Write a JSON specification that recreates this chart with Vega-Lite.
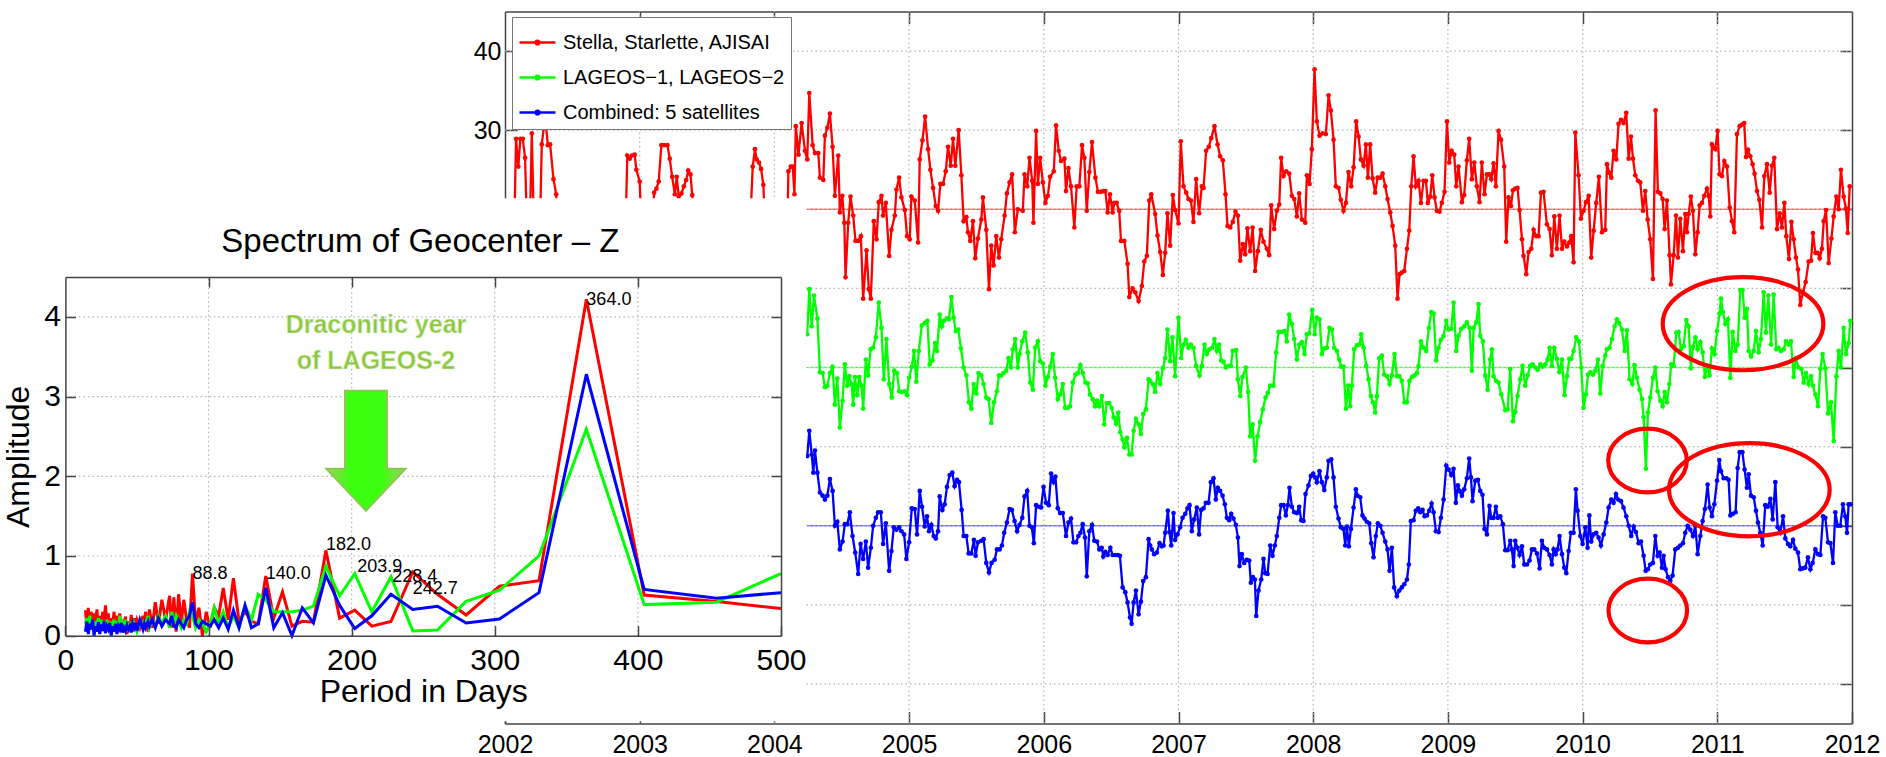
{
  "$schema": "https://vega.github.io/schema/vega-lite/v6.json",
  "width": 1886,
  "height": 757,
  "autosize": "none",
  "padding": 0,
  "background": "white",
  "config": {
    "font": "Liberation Sans",
    "view": {"stroke": null},
    "axis": {"grid": false, "domainColor": "#444", "tickColor": "#444", "labelColor": "#000", "domainWidth": 1.5, "tickWidth": 1.5, "titleFontWeight": "normal", "titleColor": "#000", "labelFlush": false, "labelOverlap": false}
  },
  "datasets": {
    "ts": [
      {"k":"S","t":2002.065,"v":14},{"k":"S","t":2002.082,"v":28.9},{"k":"S","t":2002.099,"v":25.4},{"k":"S","t":2002.114,"v":28.9},{"k":"S","t":2002.132,"v":28.9},{"k":"S","t":2002.149,"v":26.5},{"k":"S","t":2002.169,"v":14},{"k":"S","t":2002.181,"v":15},{"k":"S","t":2002.199,"v":29.6},{"k":"S","t":2002.218,"v":15},{"k":"S","t":2002.243,"v":14},{"k":"S","t":2002.255,"v":14},{"k":"S","t":2002.273,"v":28.2},{"k":"S","t":2002.298,"v":31.7},{"k":"S","t":2002.318,"v":28.1},{"k":"S","t":2002.335,"v":28.2},{"k":"S","t":2002.36,"v":23.8},{"k":"S","t":2002.38,"v":21.9},{"k":"S","t":2002.4,"v":14},
      {"k":"S","t":2002.89,"v":14},{"k":"S","t":2002.908,"v":26.8},{"k":"S","t":2002.926,"v":26.4},{"k":"S","t":2002.943,"v":26.8},{"k":"S","t":2002.963,"v":26.9},{"k":"S","t":2002.975,"v":25.0},{"k":"S","t":2003.0,"v":23.5},{"k":"S","t":2003.02,"v":14},
      {"k":"S","t":2003.08,"v":14},{"k":"S","t":2003.107,"v":22.1},{"k":"S","t":2003.124,"v":22.6},{"k":"S","t":2003.141,"v":23.5},{"k":"S","t":2003.161,"v":28.1},{"k":"S","t":2003.181,"v":28.1},{"k":"S","t":2003.206,"v":28.1},{"k":"S","t":2003.223,"v":26.4},{"k":"S","t":2003.241,"v":24.1},{"k":"S","t":2003.261,"v":21.9},{"k":"S","t":2003.275,"v":24.1},{"k":"S","t":2003.29,"v":21.6},{"k":"S","t":2003.31,"v":22.0},{"k":"S","t":2003.328,"v":22.9},{"k":"S","t":2003.345,"v":23.7},{"k":"S","t":2003.36,"v":24.9},{"k":"S","t":2003.377,"v":24.4},{"k":"S","t":2003.39,"v":21.8},{"k":"S","t":2003.41,"v":14},
      {"k":"S","t":2003.81,"v":14},{"k":"S","t":2003.839,"v":25.4},{"k":"S","t":2003.856,"v":27.6},{"k":"S","t":2003.868,"v":26.3},{"k":"S","t":2003.886,"v":25.9},{"k":"S","t":2003.901,"v":25.1},{"k":"S","t":2003.918,"v":23.1},{"k":"S","t":2003.94,"v":14},
      {"k":"S","t":2004.092,"v":14},{"k":"S","t":2004.104,"v":24.8},{"k":"S","t":2004.122,"v":25.4},{"k":"S","t":2004.136,"v":25.4},{"k":"S","t":2004.149,"v":21.9},{"k":"S","t":2004.159,"v":30.5},{"k":"S","t":2004.179,"v":26.9},
      {"k":"S","t":2004.202,"v":30.9},{"k":"S","t":2004.227,"v":27.4},{"k":"S","t":2004.244,"v":26.3},{"k":"S","t":2004.259,"v":34.7},{"k":"S","t":2004.284,"v":28.1},{"k":"S","t":2004.301,"v":27.1},{"k":"S","t":2004.326,"v":27.1},{"k":"S","t":2004.338,"v":24.0},{"k":"S","t":2004.363,"v":23.7},{"k":"S","t":2004.375,"v":29.3},{"k":"S","t":2004.393,"v":30.3},{"k":"S","t":2004.412,"v":32.1},{"k":"S","t":2004.432,"v":27.9},{"k":"S","t":2004.449,"v":21.7},{"k":"S","t":2004.474,"v":26.8},{"k":"S","t":2004.486,"v":19.6},{"k":"S","t":2004.504,"v":21.7},{"k":"S","t":2004.519,"v":18.3},{"k":"S","t":2004.528,"v":11.4},{"k":"S","t":2004.548,"v":18.3},{"k":"S","t":2004.565,"v":21.6},{"k":"S","t":2004.585,"v":19.2},{"k":"S","t":2004.602,"v":16.0},{"k":"S","t":2004.622,"v":16.0},{"k":"S","t":2004.642,"v":16.6},{"k":"S","t":2004.659,"v":8.7},{"k":"S","t":2004.684,"v":14.8},{"k":"S","t":2004.701,"v":9.9},{"k":"S","t":2004.716,"v":8.7},{"k":"S","t":2004.738,"v":18.5},{"k":"S","t":2004.758,"v":16.2},{"k":"S","t":2004.775,"v":20.9},{"k":"S","t":2004.795,"v":21.7},{"k":"S","t":2004.807,"v":19.2},{"k":"S","t":2004.827,"v":20.8},{"k":"S","t":2004.852,"v":14.1},{"k":"S","t":2004.869,"v":17.4},{"k":"S","t":2004.894,"v":19.2},{"k":"S","t":2004.906,"v":22.5},{"k":"S","t":2004.926,"v":24.0},{"k":"S","t":2004.943,"v":21.5},{"k":"S","t":2004.968,"v":19.9},{"k":"S","t":2004.985,"v":16.6},{"k":"S","t":2005.005,"v":16.2},{"k":"S","t":2005.017,"v":21.6},{"k":"S","t":2005.042,"v":21.1},{"k":"S","t":2005.067,"v":15.8},{"k":"S","t":2005.079,"v":26.3},{"k":"S","t":2005.099,"v":28.7},{"k":"S","t":2005.119,"v":31.7},{"k":"S","t":2005.141,"v":27.6},{"k":"S","t":2005.158,"v":25.0},{"k":"S","t":2005.178,"v":22.7},{"k":"S","t":2005.198,"v":20.4},{"k":"S","t":2005.215,"v":19.8},{"k":"S","t":2005.232,"v":23.2},{"k":"S","t":2005.252,"v":23.2},{"k":"S","t":2005.272,"v":24.8},{"k":"S","t":2005.289,"v":27.9},{"k":"S","t":2005.309,"v":25.5},{"k":"S","t":2005.326,"v":28.9},{"k":"S","t":2005.343,"v":25.5},{"k":"S","t":2005.368,"v":30.0},{"k":"S","t":2005.388,"v":24.3},{"k":"S","t":2005.405,"v":18.5},{"k":"S","t":2005.425,"v":19.0},{"k":"S","t":2005.437,"v":17.1},{"k":"S","t":2005.454,"v":16.0},{"k":"S","t":2005.474,"v":18.5},{"k":"S","t":2005.491,"v":13.8},{"k":"S","t":2005.511,"v":16.3},{"k":"S","t":2005.536,"v":18.7},{"k":"S","t":2005.548,"v":21.5},{"k":"S","t":2005.573,"v":17.4},{"k":"S","t":2005.593,"v":9.9},{"k":"S","t":2005.61,"v":15.4},{"k":"S","t":2005.627,"v":12.9},{"k":"S","t":2005.647,"v":16.6},{"k":"S","t":2005.667,"v":13.9},{"k":"S","t":2005.684,"v":16.2},{"k":"S","t":2005.709,"v":19.2},{"k":"S","t":2005.726,"v":22.0},{"k":"S","t":2005.746,"v":23.4},{"k":"S","t":2005.765,"v":24.4},{"k":"S","t":2005.785,"v":17.1},{"k":"S","t":2005.807,"v":20.0},{"k":"S","t":2005.844,"v":19.8},{"k":"S","t":2005.857,"v":24.4},{"k":"S","t":2005.877,"v":22.9},{"k":"S","t":2005.894,"v":26.5},{"k":"S","t":2005.914,"v":23.6},{"k":"S","t":2005.923,"v":18.3},{"k":"S","t":2005.943,"v":29.9},{"k":"S","t":2005.956,"v":23.2},{"k":"S","t":2005.973,"v":26.5},{"k":"S","t":2005.993,"v":23.4},{"k":"S","t":2006.012,"v":20.8},{"k":"S","t":2006.03,"v":21.7},{"k":"S","t":2006.047,"v":24.1},{"k":"S","t":2006.074,"v":24.8},{"k":"S","t":2006.091,"v":30.6},{"k":"S","t":2006.111,"v":27.4},{"k":"S","t":2006.128,"v":26.1},{"k":"S","t":2006.153,"v":26.4},{"k":"S","t":2006.165,"v":22.3},{"k":"S","t":2006.183,"v":25.2},{"k":"S","t":2006.202,"v":22.9},{"k":"S","t":2006.227,"v":17.7},{"k":"S","t":2006.244,"v":22.9},{"k":"S","t":2006.264,"v":22.9},{"k":"S","t":2006.284,"v":28.1},{"k":"S","t":2006.301,"v":26.5},{"k":"S","t":2006.319,"v":19.8},{"k":"S","t":2006.338,"v":24.7},{"k":"S","t":2006.358,"v":28.5},{"k":"S","t":2006.383,"v":24.0},{"k":"S","t":2006.402,"v":22.2},{"k":"S","t":2006.425,"v":22.2},{"k":"S","t":2006.444,"v":22.3},{"k":"S","t":2006.457,"v":22.3},{"k":"S","t":2006.474,"v":19.6},{"k":"S","t":2006.491,"v":21.9},{"k":"S","t":2006.511,"v":19.6},{"k":"S","t":2006.523,"v":20.8},{"k":"S","t":2006.541,"v":20.8},{"k":"S","t":2006.56,"v":19.8},{"k":"S","t":2006.573,"v":16.0},{"k":"S","t":2006.598,"v":16.0},{"k":"S","t":2006.622,"v":13.1},{"k":"S","t":2006.635,"v":8.9},{"k":"S","t":2006.659,"v":10.0},{"k":"S","t":2006.679,"v":9.5},{"k":"S","t":2006.704,"v":8.4},{"k":"S","t":2006.728,"v":10.3},{"k":"S","t":2006.746,"v":13.4},{"k":"S","t":2006.765,"v":14.1},{"k":"S","t":2006.783,"v":21.1},{"k":"S","t":2006.798,"v":21.9},
      {"k":"S","t":2006.827,"v":19.4},{"k":"S","t":2006.844,"v":16.7},{"k":"S","t":2006.864,"v":14.6},{"k":"S","t":2006.884,"v":11.7},{"k":"S","t":2006.901,"v":14.5},{"k":"S","t":2006.918,"v":19.5},{"k":"S","t":2006.938,"v":15.4},{"k":"S","t":2006.958,"v":21.8},{"k":"S","t":2006.975,"v":19.9},{"k":"S","t":2007.0,"v":18.2},{"k":"S","t":2007.017,"v":28.6},{"k":"S","t":2007.037,"v":22.9},{"k":"S","t":2007.057,"v":22.1},{"k":"S","t":2007.074,"v":21.3},{"k":"S","t":2007.092,"v":21.1},{"k":"S","t":2007.111,"v":18.4},{"k":"S","t":2007.131,"v":23.8},{"k":"S","t":2007.153,"v":19.5},{"k":"S","t":2007.173,"v":22.9},{"k":"S","t":2007.186,"v":22.7},{"k":"S","t":2007.205,"v":27.4},{"k":"S","t":2007.225,"v":27.9},{"k":"S","t":2007.243,"v":29.0},{"k":"S","t":2007.267,"v":30.5},{"k":"S","t":2007.29,"v":28.2},{"k":"S","t":2007.309,"v":26.7},{"k":"S","t":2007.329,"v":26.2},{"k":"S","t":2007.349,"v":21.9},{"k":"S","t":2007.364,"v":17.9},{"k":"S","t":2007.384,"v":17.7},{"k":"S","t":2007.403,"v":18.4},{"k":"S","t":2007.423,"v":19.7},{"k":"S","t":2007.441,"v":19.2},{"k":"S","t":2007.458,"v":13.5},{"k":"S","t":2007.478,"v":15.6},{"k":"S","t":2007.495,"v":14.3},{"k":"S","t":2007.512,"v":17.6},{"k":"S","t":2007.532,"v":14.7},{"k":"S","t":2007.55,"v":17.7},{"k":"S","t":2007.569,"v":12.2},{"k":"S","t":2007.589,"v":14.7},{"k":"S","t":2007.611,"v":17.4},{"k":"S","t":2007.631,"v":15.9},{"k":"S","t":2007.656,"v":15.0},{"k":"S","t":2007.673,"v":14.2},{"k":"S","t":2007.688,"v":20.5},{"k":"S","t":2007.71,"v":17.5},{"k":"S","t":2007.73,"v":19.8},{"k":"S","t":2007.748,"v":20.6},{"k":"S","t":2007.762,"v":26.5},{"k":"S","t":2007.78,"v":24.2},{"k":"S","t":2007.8,"v":24.8},{"k":"S","t":2007.822,"v":24.5},{"k":"S","t":2007.842,"v":21.7},{"k":"S","t":2007.859,"v":21.3},{"k":"S","t":2007.879,"v":19.1},{"k":"S","t":2007.896,"v":22.0},{"k":"S","t":2007.916,"v":18.7},{"k":"S","t":2007.941,"v":18.3},{"k":"S","t":2007.953,"v":24.3},{"k":"S","t":2007.973,"v":23.2},{"k":"S","t":2007.99,"v":27.6},{"k":"S","t":2008.01,"v":37.7},{"k":"S","t":2008.027,"v":31.1},{"k":"S","t":2008.047,"v":29.3},{"k":"S","t":2008.069,"v":29.6},{"k":"S","t":2008.094,"v":29.5},{"k":"S","t":2008.114,"v":34.4},{"k":"S","t":2008.131,"v":32.5},{"k":"S","t":2008.151,"v":28.8},{"k":"S","t":2008.168,"v":22.9},{"k":"S","t":2008.188,"v":22.7},{"k":"S","t":2008.205,"v":21.2},{"k":"S","t":2008.225,"v":19.8},{"k":"S","t":2008.243,"v":20.8},{"k":"S","t":2008.262,"v":24.7},{"k":"S","t":2008.282,"v":22.9},{"k":"S","t":2008.3,"v":25.3},{"k":"S","t":2008.319,"v":31.1},{"k":"S","t":2008.337,"v":29.2},{"k":"S","t":2008.354,"v":26.3},{"k":"S","t":2008.374,"v":25.5},{"k":"S","t":2008.391,"v":28.2},{"k":"S","t":2008.406,"v":24.0},{"k":"S","t":2008.423,"v":28.2},{"k":"S","t":2008.441,"v":23.9},{"k":"S","t":2008.46,"v":22.1},{"k":"S","t":2008.478,"v":24.0},{"k":"S","t":2008.498,"v":24.0},{"k":"S","t":2008.515,"v":24.5},{"k":"S","t":2008.535,"v":22.9},{"k":"S","t":2008.552,"v":21.3},{"k":"S","t":2008.572,"v":19.6},{"k":"S","t":2008.589,"v":17.9},{"k":"S","t":2008.609,"v":15.4},{"k":"S","t":2008.626,"v":8.7},{"k":"S","t":2008.641,"v":11.8},{"k":"S","t":2008.658,"v":12.0},{"k":"S","t":2008.676,"v":12.2},{"k":"S","t":2008.696,"v":15.0},{"k":"S","t":2008.713,"v":17.3},{"k":"S","t":2008.728,"v":22.9},{"k":"S","t":2008.745,"v":26.7},{"k":"S","t":2008.762,"v":22.9},{"k":"S","t":2008.782,"v":23.6},{"k":"S","t":2008.8,"v":20.8},{"k":"S","t":2008.819,"v":23.6},{"k":"S","t":2008.837,"v":23.6},{"k":"S","t":2008.851,"v":20.8},{"k":"S","t":2008.869,"v":21.6},{"k":"S","t":2008.884,"v":24.3},{"k":"S","t":2008.901,"v":21.5},{"k":"S","t":2008.918,"v":19.8},{"k":"S","t":2008.938,"v":19.7},{"k":"S","t":2008.955,"v":20.8},{"k":"S","t":2008.975,"v":22.2},{"k":"S","t":2008.993,"v":31.1},{"k":"S","t":2009.01,"v":25.9},{"k":"S","t":2009.027,"v":27.4},{"k":"S","t":2009.047,"v":26.9},{"k":"S","t":2009.062,"v":22.9},{"k":"S","t":2009.079,"v":25.4},{"k":"S","t":2009.104,"v":20.9},{"k":"S","t":2009.121,"v":21.8},{"k":"S","t":2009.141,"v":26.2},{"k":"S","t":2009.158,"v":28.9},{"k":"S","t":2009.178,"v":23.8},{"k":"S","t":2009.196,"v":25.9},{"k":"S","t":2009.215,"v":22.9},{"k":"S","t":2009.235,"v":20.9},{"k":"S","t":2009.252,"v":25.9},{"k":"S","t":2009.272,"v":21.9},{"k":"S","t":2009.29,"v":24.4},{"k":"S","t":2009.307,"v":24.4},{"k":"S","t":2009.322,"v":23.8},{"k":"S","t":2009.339,"v":25.8},{"k":"S","t":2009.356,"v":22.9},{"k":"S","t":2009.376,"v":29.9},{"k":"S","t":2009.394,"v":28.8},
      {"k":"S","t":2009.418,"v":25.4},{"k":"S","t":2009.433,"v":15.9},{"k":"S","t":2009.45,"v":21.5},{"k":"S","t":2009.468,"v":20.4},{"k":"S","t":2009.483,"v":22.4},{"k":"S","t":2009.5,"v":22.6},{"k":"S","t":2009.517,"v":22.7},{"k":"S","t":2009.532,"v":19.9},{"k":"S","t":2009.55,"v":16.2},{"k":"S","t":2009.562,"v":14.1},{"k":"S","t":2009.582,"v":11.8},{"k":"S","t":2009.599,"v":14.6},{"k":"S","t":2009.619,"v":15.0},{"k":"S","t":2009.636,"v":17.4},{"k":"S","t":2009.656,"v":16.6},{"k":"S","t":2009.673,"v":16.6},{"k":"S","t":2009.691,"v":22.1},{"k":"S","t":2009.71,"v":22.2},{"k":"S","t":2009.735,"v":18.1},{"k":"S","t":2009.755,"v":17.5},{"k":"S","t":2009.772,"v":14.2},{"k":"S","t":2009.79,"v":19.1},{"k":"S","t":2009.809,"v":15.0},{"k":"S","t":2009.829,"v":19.2},{"k":"S","t":2009.847,"v":15.0},{"k":"S","t":2009.864,"v":15.9},{"k":"S","t":2009.884,"v":15.3},{"k":"S","t":2009.901,"v":15.8},{"k":"S","t":2009.916,"v":16.6},{"k":"S","t":2009.933,"v":13.3},{"k":"S","t":2009.946,"v":29.7},{"k":"S","t":2009.97,"v":24.3},{"k":"S","t":2009.988,"v":18.8},{"k":"S","t":2010.007,"v":19.8},{"k":"S","t":2010.025,"v":20.9},{"k":"S","t":2010.045,"v":21.7},{"k":"S","t":2010.064,"v":13.9},{"k":"S","t":2010.082,"v":17.3},{"k":"S","t":2010.101,"v":20.8},{"k":"S","t":2010.121,"v":24.1},{"k":"S","t":2010.144,"v":17.1},{"k":"S","t":2010.168,"v":17.4},{"k":"S","t":2010.181,"v":25.7},{"k":"S","t":2010.198,"v":24.6},{"k":"S","t":2010.213,"v":24.0},{"k":"S","t":2010.23,"v":27.4},{"k":"S","t":2010.25,"v":26.3},{"k":"S","t":2010.267,"v":30.8},{"k":"S","t":2010.285,"v":31.3},{"k":"S","t":2010.304,"v":30.9},{"k":"S","t":2010.324,"v":32.2},{"k":"S","t":2010.342,"v":26.4},{"k":"S","t":2010.359,"v":29.2},{"k":"S","t":2010.374,"v":26.4},{"k":"S","t":2010.391,"v":24.3},{"k":"S","t":2010.411,"v":23.6},{"k":"S","t":2010.428,"v":23.4},{"k":"S","t":2010.448,"v":19.8},{"k":"S","t":2010.465,"v":22.3},{"k":"S","t":2010.483,"v":18.7},{"k":"S","t":2010.502,"v":16.2},{"k":"S","t":2010.522,"v":11.2},{"k":"S","t":2010.542,"v":32.5},{"k":"S","t":2010.559,"v":22.2},{"k":"S","t":2010.577,"v":22.0},{"k":"S","t":2010.594,"v":21.3},{"k":"S","t":2010.609,"v":17.5},{"k":"S","t":2010.626,"v":21.1},{"k":"S","t":2010.646,"v":14.2},{"k":"S","t":2010.656,"v":10.5},{"k":"S","t":2010.676,"v":14.2},{"k":"S","t":2010.693,"v":19.2},{"k":"S","t":2010.708,"v":13.9},{"k":"S","t":2010.725,"v":18.8},{"k":"S","t":2010.745,"v":14.7},{"k":"S","t":2010.762,"v":19.4},{"k":"S","t":2010.775,"v":17.1},{"k":"S","t":2010.787,"v":19.4},{"k":"S","t":2010.804,"v":21.6},{"k":"S","t":2010.819,"v":19.8},{"k":"S","t":2010.837,"v":14.3},{"k":"S","t":2010.854,"v":17.1},{"k":"S","t":2010.869,"v":20.5},{"k":"S","t":2010.886,"v":20.8},{"k":"S","t":2010.903,"v":21.7},{"k":"S","t":2010.923,"v":22.6},{"k":"S","t":2010.936,"v":21.7},{"k":"S","t":2010.948,"v":19.1},{"k":"S","t":2010.96,"v":28.2},{"k":"S","t":2010.985,"v":27.6},{"k":"S","t":2011.002,"v":29.9},{"k":"S","t":2011.017,"v":24.4},{"k":"S","t":2011.035,"v":24.2},{"k":"S","t":2011.052,"v":26.1},{"k":"S","t":2011.072,"v":25.4},{"k":"S","t":2011.092,"v":20.2},{"k":"S","t":2011.109,"v":18.5},{"k":"S","t":2011.126,"v":17.1},{"k":"S","t":2011.146,"v":29.5},{"k":"S","t":2011.166,"v":30.5},{"k":"S","t":2011.183,"v":30.7},{"k":"S","t":2011.2,"v":30.9},{"k":"S","t":2011.213,"v":26.6},{"k":"S","t":2011.228,"v":27.5},{"k":"S","t":2011.245,"v":26.7},{"k":"S","t":2011.262,"v":25.7},{"k":"S","t":2011.277,"v":24.5},{"k":"S","t":2011.295,"v":22.3},{"k":"S","t":2011.312,"v":21.2},{"k":"S","t":2011.332,"v":17.7},{"k":"S","t":2011.349,"v":24.2},{"k":"S","t":2011.369,"v":25.7},{"k":"S","t":2011.389,"v":22.1},{"k":"S","t":2011.406,"v":25.5},{"k":"S","t":2011.423,"v":26.5},{"k":"S","t":2011.443,"v":17.5},{"k":"S","t":2011.463,"v":19.5},{"k":"S","t":2011.48,"v":17.7},{"k":"S","t":2011.498,"v":20.8},{"k":"S","t":2011.512,"v":16.6},{"k":"S","t":2011.532,"v":13.7},{"k":"S","t":2011.55,"v":18.4},{"k":"S","t":2011.567,"v":16.2},{"k":"S","t":2011.584,"v":13.9},{"k":"S","t":2011.599,"v":12.4},{"k":"S","t":2011.616,"v":7.9},{"k":"S","t":2011.636,"v":9.5},{"k":"S","t":2011.656,"v":10.8},{"k":"S","t":2011.678,"v":13.4},{"k":"S","t":2011.696,"v":13.5},{"k":"S","t":2011.71,"v":17.0},{"k":"S","t":2011.728,"v":14.5},{"k":"S","t":2011.745,"v":14.5},{"k":"S","t":2011.76,"v":13.8},{"k":"S","t":2011.777,"v":15.0},{"k":"S","t":2011.79,"v":18.5},{"k":"S","t":2011.807,"v":19.9},{"k":"S","t":2011.827,"v":13.2},{"k":"S","t":2011.847,"v":16.3},{"k":"S","t":2011.864,"v":19.1},{"k":"S","t":2011.884,"v":21.6},{"k":"S","t":2011.901,"v":20.0},{"k":"S","t":2011.918,"v":25.0},{"k":"S","t":2011.938,"v":21.6},{"k":"S","t":2011.955,"v":20.1},{"k":"S","t":2011.968,"v":17.0},{"k":"S","t":2011.983,"v":22.9},

      {"k":"L","t":2004.244,"v":4.2},{"k":"L","t":2004.259,"v":9.9},{"k":"L","t":2004.277,"v":5.2},{"k":"L","t":2004.294,"v":9.1},{"k":"L","t":2004.319,"v":6.2},{"k":"L","t":2004.338,"v":-0.6},{"k":"L","t":2004.358,"v":-0.7},{"k":"L","t":2004.375,"v":-2.5},{"k":"L","t":2004.393,"v":-2.3},{"k":"L","t":2004.412,"v":-0.7},{"k":"L","t":2004.432,"v":0.1},{"k":"L","t":2004.449,"v":-4.7},{"k":"L","t":2004.467,"v":-1.4},{"k":"L","t":2004.486,"v":-7.6},{"k":"L","t":2004.506,"v":-4.2},{"k":"L","t":2004.523,"v":0.4},{"k":"L","t":2004.541,"v":-2.3},{"k":"L","t":2004.556,"v":-1.1},{"k":"L","t":2004.573,"v":-2.1},{"k":"L","t":2004.585,"v":-4.7},{"k":"L","t":2004.598,"v":-1.2},{"k":"L","t":2004.615,"v":-3.5},{"k":"L","t":2004.63,"v":-1.2},{"k":"L","t":2004.647,"v":-2.3},{"k":"L","t":2004.659,"v":-5.2},{"k":"L","t":2004.679,"v":1.0},{"k":"L","t":2004.696,"v":-1.0},{"k":"L","t":2004.714,"v":2.3},{"k":"L","t":2004.733,"v":2.5},{"k":"L","t":2004.753,"v":3.8},{"k":"L","t":2004.775,"v":8.2},{"k":"L","t":2004.795,"v":5.0},{"k":"L","t":2004.812,"v":-1.5},{"k":"L","t":2004.832,"v":3.6},{"k":"L","t":2004.852,"v":-2.1},{"k":"L","t":2004.872,"v":-3.8},{"k":"L","t":2004.889,"v":-0.4},{"k":"L","t":2004.911,"v":-0.7},{"k":"L","t":2004.926,"v":-3.0},{"k":"L","t":2004.943,"v":-3.1},{"k":"L","t":2004.965,"v":-3.0},{"k":"L","t":2004.985,"v":-3.5},{"k":"L","t":2005.0,"v":-1.3},{"k":"L","t":2005.02,"v":0.1},{"k":"L","t":2005.037,"v":2.1},{"k":"L","t":2005.054,"v":-1.8},{"k":"L","t":2005.072,"v":2.1},{"k":"L","t":2005.094,"v":5.3},{"k":"L","t":2005.116,"v":5.6},{"k":"L","t":2005.136,"v":5.9},{"k":"L","t":2005.153,"v":0.4},{"k":"L","t":2005.173,"v":0.9},{"k":"L","t":2005.193,"v":3.1},{"k":"L","t":2005.207,"v":2.1},{"k":"L","t":2005.227,"v":6.7},{"k":"L","t":2005.244,"v":5.2},{"k":"L","t":2005.259,"v":5.9},{"k":"L","t":2005.281,"v":6.2},{"k":"L","t":2005.296,"v":6.1},{"k":"L","t":2005.314,"v":8.9},{"k":"L","t":2005.331,"v":6.3},{"k":"L","t":2005.346,"v":4.6},{"k":"L","t":2005.365,"v":4.8},{"k":"L","t":2005.385,"v":2.4},{"k":"L","t":2005.405,"v":0.0},{"k":"L","t":2005.425,"v":-1.0},{"k":"L","t":2005.444,"v":-4.4},{"k":"L","t":2005.462,"v":-5.2},{"k":"L","t":2005.479,"v":-2.1},{"k":"L","t":2005.499,"v":-3.3},{"k":"L","t":2005.516,"v":-0.7},{"k":"L","t":2005.536,"v":-1.0},{"k":"L","t":2005.553,"v":-2.1},{"k":"L","t":2005.573,"v":-3.8},{"k":"L","t":2005.59,"v":-4.0},{"k":"L","t":2005.61,"v":-7.0},{"k":"L","t":2005.63,"v":-4.4},{"k":"L","t":2005.652,"v":-3.0},{"k":"L","t":2005.667,"v":-1.0},{"k":"L","t":2005.684,"v":-1.0},{"k":"L","t":2005.701,"v":-0.7},{"k":"L","t":2005.721,"v":-0.4},{"k":"L","t":2005.738,"v":1.2},{"k":"L","t":2005.756,"v":0.0},{"k":"L","t":2005.77,"v":2.3},{"k":"L","t":2005.788,"v":3.6},{"k":"L","t":2005.807,"v":0.0},{"k":"L","t":2005.82,"v":1.7},{"k":"L","t":2005.84,"v":3.3},{"k":"L","t":2005.862,"v":4.4},{"k":"L","t":2005.881,"v":1.9},{"k":"L","t":2005.899,"v":-1.9},{"k":"L","t":2005.919,"v":-2.8},{"k":"L","t":2005.936,"v":2.5},{"k":"L","t":2005.956,"v":3.3},{"k":"L","t":2005.973,"v":0.8},{"k":"L","t":2005.993,"v":0.5},{"k":"L","t":2006.012,"v":-2.3},{"k":"L","t":2006.03,"v":-1.2},{"k":"L","t":2006.047,"v":0.1},{"k":"L","t":2006.067,"v":1.7},{"k":"L","t":2006.084,"v":-1.3},{"k":"L","t":2006.104,"v":-4.0},{"k":"L","t":2006.121,"v":-3.4},{"k":"L","t":2006.141,"v":-2.1},{"k":"L","t":2006.158,"v":-5.1},{"k":"L","t":2006.178,"v":-5.1},{"k":"L","t":2006.195,"v":-4.9},{"k":"L","t":2006.215,"v":-1.9},{"k":"L","t":2006.235,"v":-0.9},{"k":"L","t":2006.252,"v":-0.7},{"k":"L","t":2006.272,"v":0.3},{"k":"L","t":2006.289,"v":-0.7},{"k":"L","t":2006.309,"v":-1.9},{"k":"L","t":2006.326,"v":-2.0},{"k":"L","t":2006.343,"v":-3.4},{"k":"L","t":2006.363,"v":-4.0},{"k":"L","t":2006.38,"v":-4.9},{"k":"L","t":2006.395,"v":-4.2},{"k":"L","t":2006.412,"v":-4.9},{"k":"L","t":2006.432,"v":-3.6},{"k":"L","t":2006.449,"v":-7.2},{"k":"L","t":2006.467,"v":-4.5},{"k":"L","t":2006.486,"v":-4.5},{"k":"L","t":2006.504,"v":-5.1},{"k":"L","t":2006.519,"v":-6.3},{"k":"L","t":2006.536,"v":-7.1},{"k":"L","t":2006.553,"v":-5.7},{"k":"L","t":2006.568,"v":-8.2},{"k":"L","t":2006.585,"v":-9.1},{"k":"L","t":2006.598,"v":-10.1},{"k":"L","t":2006.617,"v":-8.9},{"k":"L","t":2006.635,"v":-11.0},{"k":"L","t":2006.652,"v":-11.0},{"k":"L","t":2006.667,"v":-8.0},{"k":"L","t":2006.684,"v":-6.5},{"k":"L","t":2006.704,"v":-7.2},{"k":"L","t":2006.721,"v":-8.4},{"k":"L","t":2006.738,"v":-5.9},{"k":"L","t":2006.758,"v":-5.3},{"k":"L","t":2006.778,"v":-1.5},{"k":"L","t":2006.79,"v":-1.7},
      {"k":"L","t":2006.809,"v":-2.1},{"k":"L","t":2006.827,"v":-3.1},{"k":"L","t":2006.844,"v":-0.7},{"k":"L","t":2006.864,"v":-2.1},{"k":"L","t":2006.884,"v":-0.1},{"k":"L","t":2006.901,"v":1.2},{"k":"L","t":2006.918,"v":4.8},{"k":"L","t":2006.938,"v":0.8},{"k":"L","t":2006.955,"v":3.8},{"k":"L","t":2006.975,"v":-1.1},{"k":"L","t":2007.0,"v":6.3},{"k":"L","t":2007.02,"v":1.2},{"k":"L","t":2007.037,"v":2.9},{"k":"L","t":2007.054,"v":3.5},{"k":"L","t":2007.074,"v":2.5},{"k":"L","t":2007.092,"v":2.9},{"k":"L","t":2007.111,"v":2.5},{"k":"L","t":2007.131,"v":0.2},{"k":"L","t":2007.156,"v":-1.0},{"k":"L","t":2007.173,"v":0.2},{"k":"L","t":2007.193,"v":2.9},{"k":"L","t":2007.21,"v":1.7},{"k":"L","t":2007.23,"v":2.3},{"k":"L","t":2007.25,"v":2.5},{"k":"L","t":2007.267,"v":3.6},{"k":"L","t":2007.285,"v":2.1},{"k":"L","t":2007.302,"v":2.9},{"k":"L","t":2007.317,"v":0.9},{"k":"L","t":2007.334,"v":0.7},{"k":"L","t":2007.351,"v":0.0},{"k":"L","t":2007.371,"v":0.2},{"k":"L","t":2007.389,"v":0.2},{"k":"L","t":2007.403,"v":2.1},{"k":"L","t":2007.428,"v":2.2},{"k":"L","t":2007.441,"v":-1.5},{"k":"L","t":2007.458,"v":-3.6},{"k":"L","t":2007.475,"v":-1.2},{"k":"L","t":2007.5,"v":0.0},{"k":"L","t":2007.517,"v":-3.1},{"k":"L","t":2007.532,"v":-8.7},{"k":"L","t":2007.55,"v":-7.2},{"k":"L","t":2007.569,"v":-11.8},{"k":"L","t":2007.587,"v":-8.7},{"k":"L","t":2007.606,"v":-6.9},{"k":"L","t":2007.626,"v":-5.3},{"k":"L","t":2007.646,"v":-3.8},{"k":"L","t":2007.663,"v":-3.2},{"k":"L","t":2007.681,"v":-2.3},{"k":"L","t":2007.705,"v":-2.3},{"k":"L","t":2007.725,"v":1.9},{"k":"L","t":2007.743,"v":4.5},{"k":"L","t":2007.765,"v":4.5},{"k":"L","t":2007.787,"v":4.6},{"k":"L","t":2007.804,"v":3.3},{"k":"L","t":2007.822,"v":6.7},{"k":"L","t":2007.842,"v":5.5},{"k":"L","t":2007.859,"v":3.6},{"k":"L","t":2007.879,"v":1.0},{"k":"L","t":2007.896,"v":2.9},{"k":"L","t":2007.916,"v":3.2},{"k":"L","t":2007.936,"v":1.7},{"k":"L","t":2007.953,"v":4.2},{"k":"L","t":2007.97,"v":4.3},{"k":"L","t":2007.993,"v":7.3},{"k":"L","t":2008.012,"v":4.2},{"k":"L","t":2008.027,"v":6.3},{"k":"L","t":2008.047,"v":6.1},{"k":"L","t":2008.064,"v":1.7},{"k":"L","t":2008.082,"v":2.4},{"k":"L","t":2008.101,"v":2.5},{"k":"L","t":2008.121,"v":5.0},{"k":"L","t":2008.139,"v":4.8},{"k":"L","t":2008.156,"v":2.5},{"k":"L","t":2008.176,"v":2.1},{"k":"L","t":2008.193,"v":1.0},{"k":"L","t":2008.208,"v":0.1},{"k":"L","t":2008.225,"v":0.1},{"k":"L","t":2008.243,"v":-5.2},{"k":"L","t":2008.26,"v":-2.3},{"k":"L","t":2008.275,"v":-4.9},{"k":"L","t":2008.287,"v":-2.3},{"k":"L","t":2008.304,"v":2.3},{"k":"L","t":2008.324,"v":2.8},{"k":"L","t":2008.344,"v":2.9},{"k":"L","t":2008.356,"v":4.2},{"k":"L","t":2008.374,"v":2.5},{"k":"L","t":2008.394,"v":0.2},{"k":"L","t":2008.411,"v":-1.5},{"k":"L","t":2008.428,"v":-3.6},{"k":"L","t":2008.443,"v":-4.4},{"k":"L","t":2008.46,"v":-5.7},{"k":"L","t":2008.473,"v":-3.6},{"k":"L","t":2008.49,"v":1.2},{"k":"L","t":2008.51,"v":1.5},{"k":"L","t":2008.527,"v":-0.9},{"k":"L","t":2008.547,"v":-1.1},{"k":"L","t":2008.567,"v":-2.1},{"k":"L","t":2008.584,"v":-1.0},{"k":"L","t":2008.604,"v":1.7},{"k":"L","t":2008.621,"v":-1.1},{"k":"L","t":2008.639,"v":-1.1},{"k":"L","t":2008.658,"v":-1.7},{"k":"L","t":2008.678,"v":-4.4},{"k":"L","t":2008.696,"v":-4.4},{"k":"L","t":2008.715,"v":-1.7},{"k":"L","t":2008.733,"v":-1.2},{"k":"L","t":2008.752,"v":-1.0},{"k":"L","t":2008.77,"v":-0.7},{"k":"L","t":2008.782,"v":0.2},{"k":"L","t":2008.8,"v":3.3},{"k":"L","t":2008.819,"v":2.5},{"k":"L","t":2008.839,"v":2.1},{"k":"L","t":2008.859,"v":5.0},{"k":"L","t":2008.876,"v":7.0},{"k":"L","t":2008.894,"v":6.8},{"k":"L","t":2008.913,"v":0.9},{"k":"L","t":2008.931,"v":2.5},{"k":"L","t":2008.948,"v":3.5},{"k":"L","t":2008.968,"v":4.0},{"k":"L","t":2008.988,"v":5.9},{"k":"L","t":2009.005,"v":4.8},{"k":"L","t":2009.025,"v":4.9},{"k":"L","t":2009.042,"v":8.2},{"k":"L","t":2009.062,"v":2.1},{"k":"L","t":2009.079,"v":4.0},{"k":"L","t":2009.099,"v":4.9},{"k":"L","t":2009.121,"v":5.2},{"k":"L","t":2009.141,"v":5.7},{"k":"L","t":2009.161,"v":5.0},{"k":"L","t":2009.178,"v":-0.4},{"k":"L","t":2009.191,"v":5.0},{"k":"L","t":2009.21,"v":5.7},{"k":"L","t":2009.228,"v":8.0},{"k":"L","t":2009.24,"v":4.0},{"k":"L","t":2009.26,"v":3.3},{"k":"L","t":2009.277,"v":-1.0},{"k":"L","t":2009.295,"v":-2.8},{"k":"L","t":2009.314,"v":1.0},{"k":"L","t":2009.327,"v":2.3},{"k":"L","t":2009.339,"v":-1.1},{"k":"L","t":2009.359,"v":-1.7},{"k":"L","t":2009.376,"v":-1.9},{"k":"L","t":2009.396,"v":-3.4},
      {"k":"L","t":2009.426,"v":-5.4},{"k":"L","t":2009.443,"v":-5.3},{"k":"L","t":2009.463,"v":-0.2},{"k":"L","t":2009.483,"v":-6.8},{"k":"L","t":2009.5,"v":-5.6},{"k":"L","t":2009.517,"v":-3.6},{"k":"L","t":2009.537,"v":-1.5},{"k":"L","t":2009.554,"v":0.2},{"k":"L","t":2009.574,"v":-2.3},{"k":"L","t":2009.592,"v":-1.0},{"k":"L","t":2009.611,"v":0.2},{"k":"L","t":2009.629,"v":0.4},{"k":"L","t":2009.649,"v":0.0},{"k":"L","t":2009.666,"v":-0.3},{"k":"L","t":2009.686,"v":0.4},{"k":"L","t":2009.703,"v":0.1},{"k":"L","t":2009.723,"v":0.4},{"k":"L","t":2009.74,"v":1.0},{"k":"L","t":2009.755,"v":2.5},{"k":"L","t":2009.772,"v":0.2},{"k":"L","t":2009.79,"v":2.5},{"k":"L","t":2009.809,"v":1.1},{"k":"L","t":2009.827,"v":-0.6},{"k":"L","t":2009.847,"v":1.0},{"k":"L","t":2009.866,"v":-3.5},{"k":"L","t":2009.884,"v":-1.1},{"k":"L","t":2009.901,"v":1.1},{"k":"L","t":2009.916,"v":1.1},{"k":"L","t":2009.933,"v":2.1},{"k":"L","t":2009.953,"v":3.8},{"k":"L","t":2009.973,"v":3.3},{"k":"L","t":2009.99,"v":0.0},{"k":"L","t":2010.007,"v":-5.1},{"k":"L","t":2010.025,"v":-3.4},{"k":"L","t":2010.04,"v":-0.9},{"k":"L","t":2010.057,"v":-0.6},{"k":"L","t":2010.077,"v":-0.9},{"k":"L","t":2010.094,"v":-0.4},{"k":"L","t":2010.114,"v":1.0},{"k":"L","t":2010.131,"v":-3.3},{"k":"L","t":2010.149,"v":0.2},{"k":"L","t":2010.168,"v":1.5},{"k":"L","t":2010.181,"v":2.3},{"k":"L","t":2010.2,"v":2.5},{"k":"L","t":2010.218,"v":3.6},{"k":"L","t":2010.238,"v":5.2},{"k":"L","t":2010.255,"v":6.1},{"k":"L","t":2010.272,"v":5.6},{"k":"L","t":2010.292,"v":4.8},{"k":"L","t":2010.312,"v":2.1},{"k":"L","t":2010.329,"v":4.7},{"k":"L","t":2010.349,"v":-1.5},{"k":"L","t":2010.369,"v":-2.1},{"k":"L","t":2010.386,"v":0.3},{"k":"L","t":2010.403,"v":-1.3},{"k":"L","t":2010.423,"v":-2.8},{"k":"L","t":2010.441,"v":-4.0},{"k":"L","t":2010.453,"v":-6.3},{"k":"L","t":2010.47,"v":-12.8},{"k":"L","t":2010.485,"v":-5.7},{"k":"L","t":2010.502,"v":-3.8},{"k":"L","t":2010.522,"v":-1.3},{"k":"L","t":2010.54,"v":0.0},{"k":"L","t":2010.557,"v":-3.0},{"k":"L","t":2010.577,"v":-4.2},{"k":"L","t":2010.594,"v":-4.9},{"k":"L","t":2010.609,"v":-3.1},{"k":"L","t":2010.626,"v":-4.4},{"k":"L","t":2010.644,"v":-2.1},{"k":"L","t":2010.658,"v":0.4},{"k":"L","t":2010.676,"v":0.2},{"k":"L","t":2010.696,"v":4.4},{"k":"L","t":2010.713,"v":4.5},{"k":"L","t":2010.73,"v":2.3},{"k":"L","t":2010.75,"v":2.7},{"k":"L","t":2010.77,"v":6.0},{"k":"L","t":2010.787,"v":5.2},{"k":"L","t":2010.804,"v":-0.1},{"k":"L","t":2010.819,"v":2.6},{"k":"L","t":2010.837,"v":3.8},{"k":"L","t":2010.854,"v":2.3},{"k":"L","t":2010.874,"v":3.2},{"k":"L","t":2010.891,"v":1.9},{"k":"L","t":2010.908,"v":-1.2},{"k":"L","t":2010.923,"v":0.1},{"k":"L","t":2010.943,"v":-1.0},{"k":"L","t":2010.96,"v":2.4},{"k":"L","t":2010.98,"v":1.7},{"k":"L","t":2010.998,"v":4.6},{"k":"L","t":2011.017,"v":6.8},{"k":"L","t":2011.027,"v":8.7},{"k":"L","t":2011.042,"v":7.0},{"k":"L","t":2011.059,"v":5.5},{"k":"L","t":2011.079,"v":6.1},{"k":"L","t":2011.097,"v":-1.3},{"k":"L","t":2011.114,"v":4.5},{"k":"L","t":2011.134,"v":2.1},{"k":"L","t":2011.151,"v":2.9},{"k":"L","t":2011.171,"v":9.8},{"k":"L","t":2011.188,"v":9.8},{"k":"L","t":2011.203,"v":6.3},{"k":"L","t":2011.22,"v":7.4},{"k":"L","t":2011.233,"v":2.1},{"k":"L","t":2011.25,"v":1.4},{"k":"L","t":2011.27,"v":2.1},{"k":"L","t":2011.287,"v":4.6},{"k":"L","t":2011.307,"v":1.9},{"k":"L","t":2011.324,"v":3.6},{"k":"L","t":2011.344,"v":9.5},{"k":"L","t":2011.361,"v":4.4},{"k":"L","t":2011.379,"v":9.1},{"k":"L","t":2011.399,"v":2.9},{"k":"L","t":2011.418,"v":9.2},{"k":"L","t":2011.438,"v":2.3},{"k":"L","t":2011.455,"v":2.5},{"k":"L","t":2011.473,"v":2.1},{"k":"L","t":2011.493,"v":2.3},{"k":"L","t":2011.51,"v":3.3},{"k":"L","t":2011.53,"v":2.9},{"k":"L","t":2011.547,"v":3.3},{"k":"L","t":2011.567,"v":-1.2},{"k":"L","t":2011.584,"v":1.2},{"k":"L","t":2011.604,"v":0.0},{"k":"L","t":2011.624,"v":-0.2},{"k":"L","t":2011.641,"v":-1.9},{"k":"L","t":2011.658,"v":-0.7},{"k":"L","t":2011.678,"v":-2.1},{"k":"L","t":2011.696,"v":-1.1},{"k":"L","t":2011.71,"v":-2.3},{"k":"L","t":2011.728,"v":-3.4},{"k":"L","t":2011.748,"v":-4.9},{"k":"L","t":2011.765,"v":-0.2},{"k":"L","t":2011.782,"v":1.7},{"k":"L","t":2011.802,"v":-0.1},{"k":"L","t":2011.822,"v":-5.8},{"k":"L","t":2011.844,"v":-4.4},{"k":"L","t":2011.864,"v":-9.3},{"k":"L","t":2011.884,"v":-1.1},{"k":"L","t":2011.901,"v":2.1},{"k":"L","t":2011.918,"v":0.0},{"k":"L","t":2011.938,"v":5.0},{"k":"L","t":2011.955,"v":1.7},{"k":"L","t":2011.975,"v":3.1},{"k":"L","t":2011.988,"v":5.9},

      {"k":"C","t":2004.244,"v":-11.2},{"k":"C","t":2004.259,"v":-8.0},{"k":"C","t":2004.277,"v":-11.0},{"k":"C","t":2004.289,"v":-13.3},{"k":"C","t":2004.301,"v":-10.5},{"k":"C","t":2004.319,"v":-13.3},{"k":"C","t":2004.338,"v":-15.8},{"k":"C","t":2004.358,"v":-16.2},{"k":"C","t":2004.375,"v":-16.7},{"k":"C","t":2004.393,"v":-16.2},{"k":"C","t":2004.412,"v":-14.1},{"k":"C","t":2004.432,"v":-15.6},{"k":"C","t":2004.449,"v":-20.0},{"k":"C","t":2004.467,"v":-19.5},{"k":"C","t":2004.486,"v":-23.0},{"k":"C","t":2004.506,"v":-22.0},{"k":"C","t":2004.523,"v":-19.8},{"k":"C","t":2004.541,"v":-19.8},{"k":"C","t":2004.56,"v":-18.3},{"k":"C","t":2004.58,"v":-21.3},{"k":"C","t":2004.6,"v":-23.4},{"k":"C","t":2004.622,"v":-26.1},{"k":"C","t":2004.64,"v":-22.3},{"k":"C","t":2004.659,"v":-24.2},{"k":"C","t":2004.679,"v":-22.0},{"k":"C","t":2004.696,"v":-25.3},{"k":"C","t":2004.716,"v":-22.8},{"k":"C","t":2004.733,"v":-20.0},{"k":"C","t":2004.753,"v":-19.0},{"k":"C","t":2004.77,"v":-18.3},{"k":"C","t":2004.79,"v":-18.3},{"k":"C","t":2004.807,"v":-22.3},{"k":"C","t":2004.827,"v":-19.7},{"k":"C","t":2004.852,"v":-25.7},{"k":"C","t":2004.869,"v":-23.2},{"k":"C","t":2004.886,"v":-20.2},{"k":"C","t":2004.906,"v":-20.5},{"k":"C","t":2004.926,"v":-20.2},{"k":"C","t":2004.943,"v":-20.7},{"k":"C","t":2004.963,"v":-21.1},{"k":"C","t":2004.98,"v":-24.2},{"k":"C","t":2005.0,"v":-22.1},{"k":"C","t":2005.02,"v":-17.8},{"k":"C","t":2005.042,"v":-17.9},{"k":"C","t":2005.059,"v":-21.1},{"k":"C","t":2005.079,"v":-15.6},{"k":"C","t":2005.096,"v":-17.6},{"k":"C","t":2005.116,"v":-20.1},{"k":"C","t":2005.133,"v":-18.8},{"k":"C","t":2005.148,"v":-20.7},{"k":"C","t":2005.165,"v":-19.9},{"k":"C","t":2005.183,"v":-21.3},{"k":"C","t":2005.198,"v":-21.6},{"k":"C","t":2005.215,"v":-20.7},{"k":"C","t":2005.227,"v":-16.3},{"k":"C","t":2005.247,"v":-18.0},{"k":"C","t":2005.264,"v":-17.3},{"k":"C","t":2005.281,"v":-15.1},{"k":"C","t":2005.301,"v":-13.6},{"k":"C","t":2005.321,"v":-13.3},{"k":"C","t":2005.338,"v":-15.0},{"k":"C","t":2005.356,"v":-14.2},{"k":"C","t":2005.37,"v":-14.5},{"k":"C","t":2005.39,"v":-18.0},{"k":"C","t":2005.405,"v":-21.3},{"k":"C","t":2005.425,"v":-21.3},{"k":"C","t":2005.442,"v":-23.5},{"k":"C","t":2005.462,"v":-23.5},{"k":"C","t":2005.481,"v":-21.8},{"k":"C","t":2005.494,"v":-23.8},{"k":"C","t":2005.511,"v":-22.1},{"k":"C","t":2005.536,"v":-21.9},{"k":"C","t":2005.553,"v":-21.7},{"k":"C","t":2005.573,"v":-24.7},{"k":"C","t":2005.593,"v":-25.9},{"k":"C","t":2005.612,"v":-24.7},{"k":"C","t":2005.635,"v":-24.3},{"k":"C","t":2005.652,"v":-23.0},{"k":"C","t":2005.672,"v":-23.0},{"k":"C","t":2005.689,"v":-22.5},{"k":"C","t":2005.706,"v":-20.9},{"k":"C","t":2005.726,"v":-19.6},{"k":"C","t":2005.746,"v":-17.9},{"k":"C","t":2005.763,"v":-18.0},{"k":"C","t":2005.783,"v":-19.4},{"k":"C","t":2005.802,"v":-20.7},{"k":"C","t":2005.82,"v":-19.9},{"k":"C","t":2005.84,"v":-19.0},{"k":"C","t":2005.857,"v":-16.3},{"k":"C","t":2005.877,"v":-15.6},{"k":"C","t":2005.894,"v":-20.0},{"k":"C","t":2005.911,"v":-20.2},{"k":"C","t":2005.926,"v":-22.2},{"k":"C","t":2005.943,"v":-17.4},{"k":"C","t":2005.963,"v":-17.6},{"k":"C","t":2005.98,"v":-17.7},{"k":"C","t":2005.998,"v":-15.1},{"k":"C","t":2006.017,"v":-17.1},{"k":"C","t":2006.037,"v":-17.4},{"k":"C","t":2006.054,"v":-13.4},{"k":"C","t":2006.072,"v":-14.5},{"k":"C","t":2006.086,"v":-13.8},{"k":"C","t":2006.104,"v":-17.8},{"k":"C","t":2006.121,"v":-18.4},{"k":"C","t":2006.141,"v":-18.4},{"k":"C","t":2006.165,"v":-21.3},{"k":"C","t":2006.183,"v":-19.6},{"k":"C","t":2006.202,"v":-19.1},{"k":"C","t":2006.22,"v":-22.1},{"k":"C","t":2006.24,"v":-22.1},{"k":"C","t":2006.257,"v":-21.3},{"k":"C","t":2006.272,"v":-20.9},{"k":"C","t":2006.289,"v":-19.8},{"k":"C","t":2006.306,"v":-21.5},{"k":"C","t":2006.319,"v":-26.4},{"k":"C","t":2006.338,"v":-20.7},{"k":"C","t":2006.358,"v":-19.9},{"k":"C","t":2006.375,"v":-21.9},{"k":"C","t":2006.395,"v":-22.0},{"k":"C","t":2006.412,"v":-23.0},{"k":"C","t":2006.43,"v":-22.8},{"k":"C","t":2006.442,"v":-23.9},{"k":"C","t":2006.457,"v":-23.3},{"k":"C","t":2006.474,"v":-23.7},{"k":"C","t":2006.494,"v":-22.8},{"k":"C","t":2006.511,"v":-23.7},{"k":"C","t":2006.531,"v":-23.7},{"k":"C","t":2006.548,"v":-23.7},{"k":"C","t":2006.565,"v":-23.8},{"k":"C","t":2006.585,"v":-27.8},{"k":"C","t":2006.605,"v":-28.4},{"k":"C","t":2006.622,"v":-29.7},{"k":"C","t":2006.64,"v":-31.6},{"k":"C","t":2006.652,"v":-32.4},{"k":"C","t":2006.667,"v":-29.7},{"k":"C","t":2006.684,"v":-28.2},{"k":"C","t":2006.704,"v":-31.2},{"k":"C","t":2006.721,"v":-29.6},{"k":"C","t":2006.738,"v":-27.0},{"k":"C","t":2006.758,"v":-26.5},{"k":"C","t":2006.778,"v":-21.7},{"k":"C","t":2006.79,"v":-22.5},
      {"k":"C","t":2006.802,"v":-23.0},{"k":"C","t":2006.819,"v":-23.6},{"k":"C","t":2006.839,"v":-23.4},{"k":"C","t":2006.859,"v":-22.2},{"k":"C","t":2006.876,"v":-22.6},{"k":"C","t":2006.889,"v":-22.5},{"k":"C","t":2006.901,"v":-20.9},{"k":"C","t":2006.921,"v":-18.1},{"k":"C","t":2006.933,"v":-20.8},{"k":"C","t":2006.946,"v":-22.5},{"k":"C","t":2006.963,"v":-18.4},{"k":"C","t":2006.975,"v":-21.8},{"k":"C","t":2006.993,"v":-21.1},{"k":"C","t":2007.012,"v":-20.2},{"k":"C","t":2007.03,"v":-19.0},{"k":"C","t":2007.05,"v":-18.5},{"k":"C","t":2007.067,"v":-17.8},{"k":"C","t":2007.082,"v":-17.4},{"k":"C","t":2007.099,"v":-20.7},{"k":"C","t":2007.116,"v":-19.2},{"k":"C","t":2007.136,"v":-17.7},{"k":"C","t":2007.153,"v":-21.1},{"k":"C","t":2007.168,"v":-18.0},{"k":"C","t":2007.186,"v":-17.8},{"k":"C","t":2007.203,"v":-17.1},{"k":"C","t":2007.223,"v":-17.1},{"k":"C","t":2007.24,"v":-14.5},{"k":"C","t":2007.26,"v":-14.0},{"k":"C","t":2007.277,"v":-16.7},{"k":"C","t":2007.292,"v":-15.2},{"k":"C","t":2007.309,"v":-15.6},{"k":"C","t":2007.327,"v":-16.2},{"k":"C","t":2007.344,"v":-17.3},{"k":"C","t":2007.359,"v":-19.0},{"k":"C","t":2007.376,"v":-19.3},{"k":"C","t":2007.391,"v":-18.5},{"k":"C","t":2007.408,"v":-19.1},{"k":"C","t":2007.426,"v":-19.9},{"k":"C","t":2007.441,"v":-21.5},{"k":"C","t":2007.453,"v":-25.1},{"k":"C","t":2007.47,"v":-23.6},{"k":"C","t":2007.488,"v":-24.7},{"k":"C","t":2007.507,"v":-24.3},{"k":"C","t":2007.525,"v":-24.4},{"k":"C","t":2007.537,"v":-27.2},{"k":"C","t":2007.552,"v":-26.5},{"k":"C","t":2007.567,"v":-26.8},{"k":"C","t":2007.577,"v":-31.4},{"k":"C","t":2007.594,"v":-28.2},{"k":"C","t":2007.614,"v":-26.8},{"k":"C","t":2007.631,"v":-24.2},{"k":"C","t":2007.644,"v":-26.0},{"k":"C","t":2007.661,"v":-26.1},{"k":"C","t":2007.681,"v":-22.5},{"k":"C","t":2007.698,"v":-23.8},{"k":"C","t":2007.715,"v":-22.5},{"k":"C","t":2007.73,"v":-21.3},{"k":"C","t":2007.748,"v":-19.0},{"k":"C","t":2007.762,"v":-17.4},{"k":"C","t":2007.78,"v":-17.4},{"k":"C","t":2007.797,"v":-18.7},{"k":"C","t":2007.812,"v":-17.4},{"k":"C","t":2007.824,"v":-15.2},{"k":"C","t":2007.842,"v":-17.6},{"k":"C","t":2007.859,"v":-18.3},{"k":"C","t":2007.879,"v":-18.4},{"k":"C","t":2007.896,"v":-17.6},{"k":"C","t":2007.911,"v":-19.3},{"k":"C","t":2007.928,"v":-19.4},{"k":"C","t":2007.943,"v":-16.0},{"k":"C","t":2007.965,"v":-14.9},{"k":"C","t":2007.983,"v":-13.7},{"k":"C","t":2008.0,"v":-13.4},{"k":"C","t":2008.015,"v":-13.9},{"k":"C","t":2008.027,"v":-14.5},{"k":"C","t":2008.047,"v":-13.1},{"k":"C","t":2008.064,"v":-14.5},{"k":"C","t":2008.082,"v":-15.5},{"k":"C","t":2008.101,"v":-13.9},{"k":"C","t":2008.114,"v":-11.8},{"k":"C","t":2008.134,"v":-11.6},{"k":"C","t":2008.151,"v":-13.9},{"k":"C","t":2008.168,"v":-17.6},{"k":"C","t":2008.188,"v":-19.1},{"k":"C","t":2008.205,"v":-20.2},{"k":"C","t":2008.225,"v":-20.4},{"k":"C","t":2008.238,"v":-22.5},{"k":"C","t":2008.25,"v":-20.1},{"k":"C","t":2008.265,"v":-22.6},{"k":"C","t":2008.28,"v":-20.4},{"k":"C","t":2008.3,"v":-17.7},{"k":"C","t":2008.317,"v":-15.4},{"k":"C","t":2008.329,"v":-16.2},{"k":"C","t":2008.349,"v":-16.4},{"k":"C","t":2008.366,"v":-18.7},{"k":"C","t":2008.381,"v":-19.1},{"k":"C","t":2008.398,"v":-19.5},{"k":"C","t":2008.416,"v":-19.7},{"k":"C","t":2008.431,"v":-22.2},{"k":"C","t":2008.448,"v":-24.0},{"k":"C","t":2008.465,"v":-21.3},{"k":"C","t":2008.48,"v":-19.7},{"k":"C","t":2008.498,"v":-20.0},{"k":"C","t":2008.515,"v":-20.9},{"k":"C","t":2008.535,"v":-22.0},{"k":"C","t":2008.552,"v":-23.0},{"k":"C","t":2008.567,"v":-25.7},{"k":"C","t":2008.584,"v":-22.8},{"k":"C","t":2008.601,"v":-27.8},{"k":"C","t":2008.621,"v":-28.9},{"k":"C","t":2008.639,"v":-28.2},{"k":"C","t":2008.658,"v":-27.8},{"k":"C","t":2008.676,"v":-27.4},{"k":"C","t":2008.696,"v":-26.8},{"k":"C","t":2008.71,"v":-24.9},{"k":"C","t":2008.725,"v":-19.4},{"k":"C","t":2008.745,"v":-19.3},{"k":"C","t":2008.762,"v":-18.1},{"k":"C","t":2008.78,"v":-17.8},{"k":"C","t":2008.795,"v":-18.3},{"k":"C","t":2008.812,"v":-18.0},{"k":"C","t":2008.827,"v":-18.8},{"k":"C","t":2008.844,"v":-18.7},{"k":"C","t":2008.861,"v":-18.1},{"k":"C","t":2008.879,"v":-17.2},{"k":"C","t":2008.894,"v":-18.3},{"k":"C","t":2008.911,"v":-20.7},{"k":"C","t":2008.931,"v":-20.8},{"k":"C","t":2008.948,"v":-19.0},{"k":"C","t":2008.968,"v":-16.7},{"k":"C","t":2008.988,"v":-12.4},{"k":"C","t":2009.005,"v":-12.9},{"k":"C","t":2009.025,"v":-13.6},{"k":"C","t":2009.042,"v":-12.8},{"k":"C","t":2009.059,"v":-17.1},{"k":"C","t":2009.074,"v":-14.9},{"k":"C","t":2009.092,"v":-15.7},{"k":"C","t":2009.104,"v":-16.2},{"k":"C","t":2009.121,"v":-15.4},{"k":"C","t":2009.141,"v":-14.0},{"k":"C","t":2009.158,"v":-11.5},{"k":"C","t":2009.171,"v":-13.9},{"k":"C","t":2009.183,"v":-16.9},{"k":"C","t":2009.203,"v":-14.3},{"k":"C","t":2009.223,"v":-14.2},{"k":"C","t":2009.24,"v":-15.6},{"k":"C","t":2009.257,"v":-16.1},{"k":"C","t":2009.272,"v":-20.4},{"k":"C","t":2009.29,"v":-21.1},{"k":"C","t":2009.309,"v":-17.5},{"k":"C","t":2009.322,"v":-19.0},{"k":"C","t":2009.339,"v":-19.0},{"k":"C","t":2009.356,"v":-17.6},{"k":"C","t":2009.371,"v":-19.0},{"k":"C","t":2009.389,"v":-18.8},
      {"k":"C","t":2009.408,"v":-19.8},{"k":"C","t":2009.426,"v":-23.1},{"k":"C","t":2009.443,"v":-23.1},{"k":"C","t":2009.463,"v":-21.9},{"k":"C","t":2009.475,"v":-23.0},{"k":"C","t":2009.488,"v":-25.1},{"k":"C","t":2009.5,"v":-21.9},{"k":"C","t":2009.517,"v":-22.8},{"k":"C","t":2009.532,"v":-23.7},{"k":"C","t":2009.55,"v":-22.6},{"k":"C","t":2009.567,"v":-24.9},{"k":"C","t":2009.587,"v":-24.9},{"k":"C","t":2009.606,"v":-24.4},{"k":"C","t":2009.624,"v":-23.0},{"k":"C","t":2009.641,"v":-23.0},{"k":"C","t":2009.661,"v":-23.5},{"k":"C","t":2009.681,"v":-25.4},{"k":"C","t":2009.698,"v":-21.9},{"k":"C","t":2009.715,"v":-22.8},{"k":"C","t":2009.735,"v":-23.0},{"k":"C","t":2009.755,"v":-23.7},{"k":"C","t":2009.772,"v":-24.9},{"k":"C","t":2009.785,"v":-23.0},{"k":"C","t":2009.8,"v":-23.6},{"k":"C","t":2009.814,"v":-23.0},{"k":"C","t":2009.829,"v":-21.3},{"k":"C","t":2009.847,"v":-23.6},{"k":"C","t":2009.864,"v":-25.3},{"k":"C","t":2009.879,"v":-26.0},{"k":"C","t":2009.896,"v":-23.2},{"k":"C","t":2009.913,"v":-20.9},{"k":"C","t":2009.933,"v":-20.9},{"k":"C","t":2009.95,"v":-15.4},{"k":"C","t":2009.963,"v":-18.1},{"k":"C","t":2009.983,"v":-21.3},{"k":"C","t":2010.0,"v":-22.3},{"k":"C","t":2010.02,"v":-20.2},{"k":"C","t":2010.037,"v":-22.8},{"k":"C","t":2010.05,"v":-18.7},{"k":"C","t":2010.064,"v":-22.0},{"k":"C","t":2010.082,"v":-21.1},{"k":"C","t":2010.101,"v":-20.9},{"k":"C","t":2010.119,"v":-21.5},{"k":"C","t":2010.136,"v":-22.5},{"k":"C","t":2010.156,"v":-21.1},{"k":"C","t":2010.176,"v":-19.6},{"k":"C","t":2010.193,"v":-17.7},{"k":"C","t":2010.213,"v":-16.7},{"k":"C","t":2010.23,"v":-17.1},{"k":"C","t":2010.248,"v":-16.0},{"k":"C","t":2010.265,"v":-16.7},{"k":"C","t":2010.285,"v":-16.9},{"k":"C","t":2010.304,"v":-17.7},{"k":"C","t":2010.324,"v":-18.8},{"k":"C","t":2010.342,"v":-20.0},{"k":"C","t":2010.361,"v":-21.3},{"k":"C","t":2010.379,"v":-20.1},{"k":"C","t":2010.396,"v":-20.8},{"k":"C","t":2010.416,"v":-22.2},{"k":"C","t":2010.433,"v":-22.0},{"k":"C","t":2010.453,"v":-23.8},{"k":"C","t":2010.468,"v":-25.7},{"k":"C","t":2010.485,"v":-25.5},{"k":"C","t":2010.502,"v":-24.9},{"k":"C","t":2010.522,"v":-24.7},{"k":"C","t":2010.54,"v":-21.3},{"k":"C","t":2010.557,"v":-23.8},{"k":"C","t":2010.572,"v":-23.4},{"k":"C","t":2010.589,"v":-25.3},{"k":"C","t":2010.601,"v":-23.8},{"k":"C","t":2010.616,"v":-25.5},{"k":"C","t":2010.634,"v":-26.5},{"k":"C","t":2010.651,"v":-27.0},{"k":"C","t":2010.668,"v":-26.3},{"k":"C","t":2010.688,"v":-23.0},{"k":"C","t":2010.708,"v":-22.8},{"k":"C","t":2010.725,"v":-22.5},{"k":"C","t":2010.745,"v":-22.2},{"k":"C","t":2010.762,"v":-20.9},{"k":"C","t":2010.78,"v":-20.0},{"k":"C","t":2010.8,"v":-20.5},{"k":"C","t":2010.819,"v":-21.3},{"k":"C","t":2010.837,"v":-20.0},{"k":"C","t":2010.854,"v":-23.6},{"k":"C","t":2010.874,"v":-21.3},{"k":"C","t":2010.891,"v":-19.4},{"k":"C","t":2010.908,"v":-17.9},{"k":"C","t":2010.928,"v":-14.8},{"k":"C","t":2010.943,"v":-17.7},{"k":"C","t":2010.96,"v":-18.8},{"k":"C","t":2010.978,"v":-17.3},{"k":"C","t":2010.998,"v":-14.3},{"k":"C","t":2011.015,"v":-11.7},{"k":"C","t":2011.027,"v":-13.1},{"k":"C","t":2011.047,"v":-14.0},{"k":"C","t":2011.067,"v":-14.0},{"k":"C","t":2011.084,"v":-14.2},{"k":"C","t":2011.097,"v":-18.7},{"k":"C","t":2011.116,"v":-18.5},{"k":"C","t":2011.136,"v":-18.3},{"k":"C","t":2011.151,"v":-12.7},{"k":"C","t":2011.166,"v":-10.7},{"k":"C","t":2011.186,"v":-10.7},{"k":"C","t":2011.203,"v":-12.9},{"k":"C","t":2011.22,"v":-15.2},{"k":"C","t":2011.233,"v":-13.5},{"k":"C","t":2011.25,"v":-16.2},{"k":"C","t":2011.27,"v":-16.4},{"k":"C","t":2011.287,"v":-18.1},{"k":"C","t":2011.302,"v":-19.6},{"k":"C","t":2011.319,"v":-20.9},{"k":"C","t":2011.337,"v":-22.5},{"k":"C","t":2011.356,"v":-17.4},{"k":"C","t":2011.374,"v":-17.6},{"k":"C","t":2011.394,"v":-16.6},{"k":"C","t":2011.411,"v":-19.2},{"k":"C","t":2011.431,"v":-14.5},{"k":"C","t":2011.448,"v":-20.2},{"k":"C","t":2011.468,"v":-20.9},{"k":"C","t":2011.488,"v":-18.8},{"k":"C","t":2011.505,"v":-21.6},{"k":"C","t":2011.525,"v":-22.3},{"k":"C","t":2011.542,"v":-22.6},{"k":"C","t":2011.562,"v":-21.8},{"k":"C","t":2011.579,"v":-22.9},{"k":"C","t":2011.599,"v":-23.4},{"k":"C","t":2011.616,"v":-25.5},{"k":"C","t":2011.634,"v":-25.4},{"k":"C","t":2011.653,"v":-25.3},{"k":"C","t":2011.673,"v":-24.0},{"k":"C","t":2011.691,"v":-25.5},{"k":"C","t":2011.708,"v":-24.7},{"k":"C","t":2011.728,"v":-23.0},{"k":"C","t":2011.748,"v":-23.6},{"k":"C","t":2011.765,"v":-23.7},{"k":"C","t":2011.785,"v":-18.8},{"k":"C","t":2011.802,"v":-19.0},{"k":"C","t":2011.822,"v":-22.1},{"k":"C","t":2011.839,"v":-22.2},{"k":"C","t":2011.859,"v":-24.7},{"k":"C","t":2011.876,"v":-18.3},{"k":"C","t":2011.894,"v":-20.0},{"k":"C","t":2011.913,"v":-20.0},{"k":"C","t":2011.933,"v":-17.3},{"k":"C","t":2011.95,"v":-18.8},{"k":"C","t":2011.963,"v":-20.9},{"k":"C","t":2011.975,"v":-17.3},{"k":"C","t":2011.988,"v":-17.3}
    ],
    "spec": [
      {"k":"S","p":14,"a":0.32},{"k":"S","p":15,"a":0.12},{"k":"S","p":16,"a":0.35},{"k":"S","p":17,"a":0.08},{"k":"S","p":18,"a":0.3},{"k":"S","p":19,"a":0.15},{"k":"S","p":20,"a":0.28},{"k":"S","p":21,"a":0.05},{"k":"S","p":22,"a":0.33},{"k":"S","p":23,"a":0.12},{"k":"S","p":24,"a":0.25},{"k":"S","p":25,"a":0.06},{"k":"S","p":26,"a":0.3},{"k":"S","p":27,"a":0.18},{"k":"S","p":28,"a":0.38},{"k":"S","p":29,"a":0.1},{"k":"S","p":30,"a":0.28},{"k":"S","p":31,"a":0.04},{"k":"S","p":32,"a":0.22},{"k":"S","p":33,"a":0.15},{"k":"S","p":34,"a":0.3},{"k":"S","p":35,"a":0.08},{"k":"S","p":36,"a":0.25},{"k":"S","p":37,"a":0.12},{"k":"S","p":38,"a":0.28},{"k":"S","p":39,"a":0.05},{"k":"S","p":40,"a":0.2},{"k":"S","p":41,"a":0.14},{"k":"S","p":42,"a":0.24},{"k":"S","p":43,"a":0.02},{"k":"S","p":44,"a":0.18},{"k":"S","p":45,"a":0.1},{"k":"S","p":46,"a":0.26},{"k":"S","p":47,"a":0.05},{"k":"S","p":48,"a":0.22},{"k":"S","p":49,"a":0.12},{"k":"S","p":50,"a":0.2},{"k":"S","p":52,"a":0.1},{"k":"S","p":54.2,"a":0.25},{"k":"S","p":55.2,"a":0.12},{"k":"S","p":56,"a":0.3},{"k":"S","p":57.8,"a":0.05},{"k":"S","p":58.7,"a":0.33},{"k":"S","p":60.7,"a":0.1},{"k":"S","p":62.8,"a":0.42},{"k":"S","p":65,"a":0.15},{"k":"S","p":67.4,"a":0.45},{"k":"S","p":70,"a":0.2},{"k":"S","p":72.8,"a":0.5},{"k":"S","p":74.3,"a":0.1},{"k":"S","p":75.8,"a":0.48},{"k":"S","p":77.4,"a":0.05},{"k":"S","p":79.1,"a":0.52},{"k":"S","p":80.9,"a":0.15},{"k":"S","p":82.7,"a":0.45},{"k":"S","p":84.7,"a":0.2},{"k":"S","p":86.7,"a":0.1},{"k":"S","p":88.8,"a":0.78},{"k":"S","p":91,"a":0.15},{"k":"S","p":93.3,"a":0.35},{"k":"S","p":95.8,"a":0.0},{"k":"S","p":98.4,"a":0.3},{"k":"S","p":101.1,"a":0.1},{"k":"S","p":104,"a":0.35},{"k":"S","p":107.1,"a":0.25},{"k":"S","p":110.3,"a":0.6},{"k":"S","p":113.75,"a":0.2},{"k":"S","p":117.4,"a":0.72},{"k":"S","p":121.3,"a":0.18},{"k":"S","p":125.5,"a":0.3},{"k":"S","p":130,"a":0.18},{"k":"S","p":134.8,"a":0.15},{"k":"S","p":140,"a":0.75},{"k":"S","p":145.6,"a":0.22},{"k":"S","p":151.7,"a":0.55},{"k":"S","p":158.3,"a":0.12},{"k":"S","p":165.5,"a":0.18},{"k":"S","p":173.3,"a":0.17},{"k":"S","p":182,"a":1.07},{"k":"S","p":191.6,"a":0.22},{"k":"S","p":202.2,"a":0.32},{"k":"S","p":214.1,"a":0.12},{"k":"S","p":227.5,"a":0.18},{"k":"S","p":242.7,"a":0.8},{"k":"S","p":260,"a":0.52},{"k":"S","p":280,"a":0.26},{"k":"S","p":303.3,"a":0.62},{"k":"S","p":330.9,"a":0.69},{"k":"S","p":364,"a":4.22},{"k":"S","p":404.4,"a":0.51},{"k":"S","p":455,"a":0.43},{"k":"S","p":500,"a":0.34},
      {"k":"L","p":14,"a":0.15},{"k":"L","p":15,"a":0.22},{"k":"L","p":16,"a":0.08},{"k":"L","p":17,"a":0.25},{"k":"L","p":18,"a":0.1},{"k":"L","p":19,"a":0.2},{"k":"L","p":20,"a":0.05},{"k":"L","p":21,"a":0.18},{"k":"L","p":22,"a":0.12},{"k":"L","p":23,"a":0.22},{"k":"L","p":24,"a":0.06},{"k":"L","p":25,"a":0.2},{"k":"L","p":26,"a":0.1},{"k":"L","p":27,"a":0.16},{"k":"L","p":28,"a":0.05},{"k":"L","p":29,"a":0.2},{"k":"L","p":30,"a":0.1},{"k":"L","p":31,"a":0.18},{"k":"L","p":32,"a":0.05},{"k":"L","p":33,"a":0.15},{"k":"L","p":34,"a":0.2},{"k":"L","p":35,"a":0.08},{"k":"L","p":36,"a":0.18},{"k":"L","p":37,"a":0.1},{"k":"L","p":38,"a":0.25},{"k":"L","p":39,"a":0.06},{"k":"L","p":40,"a":0.15},{"k":"L","p":41,"a":0.1},{"k":"L","p":42,"a":0.2},{"k":"L","p":43,"a":0.05},{"k":"L","p":44,"a":0.16},{"k":"L","p":45,"a":0.1},{"k":"L","p":46,"a":0.18},{"k":"L","p":47,"a":0.06},{"k":"L","p":48,"a":0.15},{"k":"L","p":49,"a":0.1},{"k":"L","p":50,"a":0.05},{"k":"L","p":52,"a":0.15},{"k":"L","p":54.2,"a":0.1},{"k":"L","p":55.2,"a":0.2},{"k":"L","p":56,"a":0.12},{"k":"L","p":57.8,"a":0.25},{"k":"L","p":58.7,"a":0.1},{"k":"L","p":60.7,"a":0.18},{"k":"L","p":62.8,"a":0.12},{"k":"L","p":65,"a":0.25},{"k":"L","p":67.4,"a":0.15},{"k":"L","p":70,"a":0.25},{"k":"L","p":72.8,"a":0.1},{"k":"L","p":74.3,"a":0.3},{"k":"L","p":75.8,"a":0.15},{"k":"L","p":77.4,"a":0.25},{"k":"L","p":79.1,"a":0.18},{"k":"L","p":80.9,"a":0.1},{"k":"L","p":82.7,"a":0.2},{"k":"L","p":84.7,"a":0.15},{"k":"L","p":86.7,"a":0.3},{"k":"L","p":88.8,"a":0.25},{"k":"L","p":91,"a":0.1},{"k":"L","p":93.3,"a":0.2},{"k":"L","p":95.8,"a":0.15},{"k":"L","p":98.4,"a":0.05},{"k":"L","p":101.1,"a":0.15},{"k":"L","p":104,"a":0.35},{"k":"L","p":107.1,"a":0.15},{"k":"L","p":110.3,"a":0.3},{"k":"L","p":113.75,"a":0.1},{"k":"L","p":117.4,"a":0.25},{"k":"L","p":121.3,"a":0.1},{"k":"L","p":125.5,"a":0.38},{"k":"L","p":130,"a":0.2},{"k":"L","p":134.8,"a":0.52},{"k":"L","p":140,"a":0.45},{"k":"L","p":145.6,"a":0.3},{"k":"L","p":151.7,"a":0.3},{"k":"L","p":158.3,"a":0.3},{"k":"L","p":165.5,"a":0.32},{"k":"L","p":173.3,"a":0.37},{"k":"L","p":182,"a":0.87},{"k":"L","p":191.6,"a":0.5},{"k":"L","p":202.2,"a":0.78},{"k":"L","p":214.1,"a":0.3},{"k":"L","p":227.5,"a":0.74},{"k":"L","p":242.7,"a":0.06},{"k":"L","p":260,"a":0.07},{"k":"L","p":280,"a":0.43},{"k":"L","p":303.3,"a":0.57},{"k":"L","p":330.9,"a":1.0},{"k":"L","p":364,"a":2.59},{"k":"L","p":404.4,"a":0.39},{"k":"L","p":455,"a":0.42},{"k":"L","p":500,"a":0.78},
      {"k":"C","p":14,"a":0.05},{"k":"C","p":15,"a":0.18},{"k":"C","p":16,"a":0.02},{"k":"C","p":17,"a":0.15},{"k":"C","p":18,"a":0.08},{"k":"C","p":19,"a":0.2},{"k":"C","p":20,"a":0.0},{"k":"C","p":21,"a":0.12},{"k":"C","p":22,"a":0.05},{"k":"C","p":23,"a":0.17},{"k":"C","p":24,"a":0.02},{"k":"C","p":25,"a":0.14},{"k":"C","p":26,"a":0.06},{"k":"C","p":27,"a":0.18},{"k":"C","p":28,"a":0.03},{"k":"C","p":29,"a":0.12},{"k":"C","p":30,"a":0.08},{"k":"C","p":31,"a":0.16},{"k":"C","p":32,"a":0.0},{"k":"C","p":33,"a":0.12},{"k":"C","p":34,"a":0.05},{"k":"C","p":35,"a":0.15},{"k":"C","p":36,"a":0.02},{"k":"C","p":37,"a":0.12},{"k":"C","p":38,"a":0.08},{"k":"C","p":39,"a":0.16},{"k":"C","p":40,"a":0.04},{"k":"C","p":41,"a":0.1},{"k":"C","p":42,"a":0.06},{"k":"C","p":43,"a":0.13},{"k":"C","p":44,"a":0.08},{"k":"C","p":45,"a":0.12},{"k":"C","p":46,"a":0.04},{"k":"C","p":47,"a":0.15},{"k":"C","p":48,"a":0.1},{"k":"C","p":49,"a":0.16},{"k":"C","p":50,"a":0.06},{"k":"C","p":52,"a":0.2},{"k":"C","p":54.2,"a":0.08},{"k":"C","p":55.2,"a":0.15},{"k":"C","p":56,"a":0.1},{"k":"C","p":57.8,"a":0.18},{"k":"C","p":58.7,"a":0.12},{"k":"C","p":60.7,"a":0.2},{"k":"C","p":62.8,"a":0.1},{"k":"C","p":65,"a":0.22},{"k":"C","p":67.4,"a":0.12},{"k":"C","p":70,"a":0.2},{"k":"C","p":72.8,"a":0.15},{"k":"C","p":74.3,"a":0.25},{"k":"C","p":75.8,"a":0.12},{"k":"C","p":77.4,"a":0.1},{"k":"C","p":79.1,"a":0.2},{"k":"C","p":80.9,"a":0.15},{"k":"C","p":82.7,"a":0.1},{"k":"C","p":84.7,"a":0.2},{"k":"C","p":86.7,"a":0.25},{"k":"C","p":88.8,"a":0.42},{"k":"C","p":91,"a":0.15},{"k":"C","p":93.3,"a":0.1},{"k":"C","p":95.8,"a":0.18},{"k":"C","p":98.4,"a":0.15},{"k":"C","p":101.1,"a":0.12},{"k":"C","p":104,"a":0.2},{"k":"C","p":107.1,"a":0.1},{"k":"C","p":110.3,"a":0.22},{"k":"C","p":113.75,"a":0.08},{"k":"C","p":117.4,"a":0.32},{"k":"C","p":121.3,"a":0.1},{"k":"C","p":125.5,"a":0.38},{"k":"C","p":130,"a":0.1},{"k":"C","p":134.8,"a":0.15},{"k":"C","p":140,"a":0.6},{"k":"C","p":145.6,"a":0.1},{"k":"C","p":151.7,"a":0.29},{"k":"C","p":158.3,"a":0.0},{"k":"C","p":165.5,"a":0.35},{"k":"C","p":173.3,"a":0.16},{"k":"C","p":182,"a":0.76},{"k":"C","p":191.6,"a":0.38},{"k":"C","p":202.2,"a":0.09},{"k":"C","p":214.1,"a":0.25},{"k":"C","p":227.5,"a":0.52},{"k":"C","p":242.7,"a":0.33},{"k":"C","p":260,"a":0.37},{"k":"C","p":280,"a":0.16},{"k":"C","p":303.3,"a":0.21},{"k":"C","p":330.9,"a":0.54},{"k":"C","p":364,"a":3.28},{"k":"C","p":404.4,"a":0.58},{"k":"C","p":455,"a":0.47},{"k":"C","p":500,"a":0.54}
    ]
  },
  "resolve": {"scale": {"x": "independent", "y": "independent"}, "axis": {"x": "independent", "y": "independent"}},
  "layer": [
    {
      "layer": [
        {
          "data": {"values": [{"t":2003},{"t":2004},{"t":2005},{"t":2006},{"t":2007},{"t":2008},{"t":2009},{"t":2010},{"t":2011}]},
          "mark": {"type": "rule", "color": "#b4b4b4", "strokeDash": [1.5, 3], "strokeWidth": 1.2},
          "encoding": {
            "x": {"field": "t", "type": "quantitative", "scale": {"domain": [2002, 2012], "range": [505, 1852], "nice": false, "zero": false},
                  "axis": {"orient": "bottom", "offset": -33.5, "values": [2002,2003,2004,2005,2006,2007,2008,2009,2010,2011,2012], "format": "d", "tickSize": -12, "labelPadding": 21, "labelFontSize": 25, "title": null, "zindex": 0}},
            "y": {"datum": -45, "type": "quantitative", "scale": {"domain": [-45, 45], "range": [723.5, 11.5], "nice": false, "zero": false},
                  "axis": {"orient": "left", "offset": -505, "values": [-40,-30,-20,-10,0,10,20,30,40], "tickSize": -12, "labelPadding": 16, "labelFontSize": 25, "title": null, "zindex": 0}},
            "y2": {"datum": 45}
          }
        },
        {
          "data": {"values": [{"v":-40},{"v":-30},{"v":-20},{"v":-10},{"v":0},{"v":10},{"v":20},{"v":30},{"v":40}]},
          "mark": {"type": "rule", "color": "#b4b4b4", "strokeDash": [1.5, 3], "strokeWidth": 1.2},
          "encoding": {"y": {"field": "v", "type": "quantitative"}, "x": {"datum": 2002}, "x2": {"datum": 2012}}
        },
        {
          "data": {"name": "ts"},
          "mark": {"type": "line", "strokeWidth": 2.3, "point": {"filled": true, "size": 22}},
          "encoding": {
            "x": {"field": "t", "type": "quantitative"},
            "y": {"field": "v", "type": "quantitative"},
            "color": {"field": "k", "type": "nominal",
              "scale": {"domain": ["S", "L", "C"], "range": ["#ff0000", "#00ff00", "#0000ff"]},
              "legend": {"orient": "none", "legendX": 512, "legendY": 17, "title": null,
                "labelExpr": "datum.label == 'S' ? 'Stella, Starlette, AJISAI' : datum.label == 'L' ? 'LAGEOS−1, LAGEOS−2' : 'Combined: 5 satellites'",
                "labelFontSize": 20, "labelColor": "#000", "labelLimit": 400, "labelOffset": 6,
                "symbolType": "M-1,0L1,0M-0.1,0A0.1,0.1,0,1,1,0.1,0A0.1,0.1,0,1,1,-0.1,0",
                "symbolSize": 1296, "symbolStrokeWidth": 2.4, "symbolOpacity": 1,
                "fillColor": "white", "strokeColor": "#777", "padding": 6, "rowPadding": 5,
                "encode": {"symbols": {"update": {"opacity": {"value": 1}, "strokeOpacity": {"value": 1}, "strokeWidth": {"value": 2.6}}}}}}
          }
        },
        {
          "data": {"values": [{"k":"S","v":20},{"k":"L","v":0},{"k":"C","v":-20}]},
          "mark": {"type": "rule", "strokeWidth": 1.5, "opacity": 0.45},
          "encoding": {"y": {"field": "v", "type": "quantitative"}, "x": {"datum": 2004.244}, "x2": {"datum": 2012}, "color": {"field": "k", "type": "nominal"}}
        },
        {
          "data": {"values": [{"t":2011.191,"v":5.54,"e":"big"},{"t":2010.482,"v":-11.76,"e":"small"},{"t":2011.238,"v":-15.45,"e":"big"},{"t":2010.484,"v":-30.72,"e":"small"}]},
          "transform": [{"filter": "datum.e == 'big'"}],
          "mark": {"type": "point", "shape": "M-1,0A1,0.58,0,1,1,1,0A1,0.58,0,1,1,-1,0Z", "size": 25800, "filled": false, "stroke": "#ff0000", "strokeWidth": 4.2, "opacity": 1},
          "encoding": {"x": {"field": "t", "type": "quantitative"}, "y": {"field": "v", "type": "quantitative"}}
        },
        {
          "data": {"values": [{"t":2011.191,"v":5.54,"e":"big"},{"t":2010.482,"v":-11.76,"e":"small"},{"t":2011.238,"v":-15.45,"e":"big"},{"t":2010.484,"v":-30.72,"e":"small"}]},
          "transform": [{"filter": "datum.e == 'small'"}],
          "mark": {"type": "point", "shape": "M-1,0A1,0.81,0,1,1,1,0A1,0.81,0,1,1,-1,0Z", "size": 6180, "filled": false, "stroke": "#ff0000", "strokeWidth": 4.2, "opacity": 1},
          "encoding": {"x": {"field": "t", "type": "quantitative"}, "y": {"field": "v", "type": "quantitative"}}
        },
        {
          "data": {"values": [{"t0": 1998, "t1": 2004.235, "v0": -44.7, "v1": 21.4}]},
          "mark": {"type": "rect", "color": "white", "opacity": 1},
          "encoding": {"x": {"field": "t0", "type": "quantitative"}, "x2": {"field": "t1"}, "y": {"field": "v0", "type": "quantitative"}, "y2": {"field": "v1"}}
        }
      ]
    },
    {
      "data": {"values": [{"t": 2002, "v": -45}]},
      "mark": {"type": "point", "opacity": 0},
      "encoding": {
        "x": {"field": "t", "type": "quantitative", "scale": {"domain": [2002, 2012], "range": [505, 1852], "nice": false, "zero": false},
              "axis": {"orient": "top", "offset": -11.5, "values": [2003,2004,2005,2006,2007,2008,2009,2010,2011], "tickSize": -12, "labels": false, "title": null, "zindex": 0}},
        "y": {"field": "v", "type": "quantitative", "scale": {"domain": [-45, 45], "range": [723.5, 11.5], "nice": false, "zero": false},
              "axis": {"orient": "right", "offset": -34, "values": [-40,-30,-20,-10,0,10,20,30,40], "tickSize": -12, "labels": false, "title": null, "zindex": 0}}
      }
    },
    {
      "layer": [
        {
          "data": {"values": [{"p":100},{"p":200},{"p":300},{"p":400}]},
          "mark": {"type": "rule", "color": "#b4b4b4", "strokeDash": [1.5, 3], "strokeWidth": 1.2},
          "encoding": {
            "x": {"field": "p", "type": "quantitative", "scale": {"domain": [0, 500], "range": [65.4, 781], "nice": false, "zero": false},
                  "axis": {"orient": "bottom", "offset": -121.3, "values": [0,100,200,300,400,500], "format": "d", "tickSize": -10, "labelPadding": 20, "labelFontSize": 30, "title": "Period in Days", "titleFontSize": 32, "titlePadding": 1, "zindex": 1}},
            "y": {"datum": 0, "type": "quantitative", "scale": {"domain": [0, 4.5], "range": [635.7, 277], "nice": false, "zero": false},
                  "axis": {"orient": "left", "offset": -65.4, "values": [0,1,2,3,4], "format": "d", "tickSize": -10, "labelPadding": 15, "labelFontSize": 30, "title": "Amplitude", "titleFontSize": 32, "titlePadding": 8, "zindex": 1}},
            "y2": {"datum": 4.5}
          }
        },
        {
          "data": {"values": [{"a":1},{"a":2},{"a":3},{"a":4}]},
          "mark": {"type": "rule", "color": "#b4b4b4", "strokeDash": [1.5, 3], "strokeWidth": 1.2},
          "encoding": {"y": {"field": "a", "type": "quantitative"}, "x": {"datum": 0}, "x2": {"datum": 500}}
        },
        {
          "data": {"name": "spec"},
          "mark": {"type": "line", "strokeWidth": 3},
          "encoding": {"x": {"field": "p", "type": "quantitative"}, "y": {"field": "a", "type": "quantitative"}, "color": {"field": "k", "type": "nominal"}}
        },
        {
          "data": {"values": [{"lab":"88.8","p":88.8,"a":0.77},{"lab":"140.0","p":140.0,"a":0.77},{"lab":"182.0","p":182.0,"a":1.14},{"lab":"203.9","p":203.9,"a":0.86},{"lab":"228.4","p":228.4,"a":0.74},{"lab":"242.7","p":242.7,"a":0.59},{"lab":"364.0","p":364.0,"a":4.21}]},
          "mark": {"type": "text", "align": "left", "baseline": "middle", "fontSize": 18, "color": "#000"},
          "encoding": {"x": {"field": "p", "type": "quantitative"}, "y": {"field": "a", "type": "quantitative"}, "text": {"field": "lab"}}
        },
        {
          "data": {"values": [{"txt": "Spectrum of Geocenter – Z"}]},
          "mark": {"type": "text", "align": "center", "baseline": "middle", "fontSize": 33, "color": "#000"},
          "encoding": {"x": {"datum": 248}, "y": {"datum": 4.94}, "text": {"field": "txt"}}
        },
        {
          "data": {"values": [{"p": 210, "a": 2.32}]},
          "mark": {"type": "point", "shape": "M-0.35,-1L0.35,-1L0.35,0.3L0.66,0.3L0,1L-0.66,0.3L-0.35,0.3Z", "size": 14400, "filled": true, "opacity": 1,
            "fill": {"gradient": "linear", "x1": 0, "y1": 0, "x2": 1, "y2": 0, "stops": [{"offset": 0, "color": "#9bd05c"}, {"offset": 0.3, "color": "#3cff10"}, {"offset": 0.7, "color": "#3cff10"}, {"offset": 1, "color": "#9bd05c"}]},
            "stroke": "#8cc850", "strokeWidth": 2},
          "encoding": {"x": {"field": "p", "type": "quantitative"}, "y": {"field": "a", "type": "quantitative"}}
        },
        {
          "data": {"values": [{"txt": "Draconitic year", "p": 217, "a": 3.9}, {"txt": "of LAGEOS-2", "p": 217, "a": 3.45}]},
          "mark": {"type": "text", "align": "center", "baseline": "middle", "fontSize": 25, "fontWeight": "bold", "color": "#8dc63f", "stroke": "#d9efc4", "strokeWidth": 0.6},
          "encoding": {"x": {"field": "p", "type": "quantitative"}, "y": {"field": "a", "type": "quantitative"}, "text": {"field": "txt"}}
        }
      ]
    },
    {
      "data": {"values": [{"p": 0, "a": 0}]},
      "mark": {"type": "point", "opacity": 0},
      "encoding": {
        "x": {"field": "p", "type": "quantitative", "scale": {"domain": [0, 500], "range": [65.4, 781], "nice": false, "zero": false},
              "axis": {"orient": "top", "offset": -277, "values": [100,200,300,400], "tickSize": -10, "labels": false, "title": null, "zindex": 1}},
        "y": {"field": "a", "type": "quantitative", "scale": {"domain": [0, 4.5], "range": [635.7, 277], "nice": false, "zero": false},
              "axis": {"orient": "right", "offset": -1105, "values": [1,2,3,4], "tickSize": -10, "labels": false, "title": null, "zindex": 1}}
      }
    }
  ]
}
